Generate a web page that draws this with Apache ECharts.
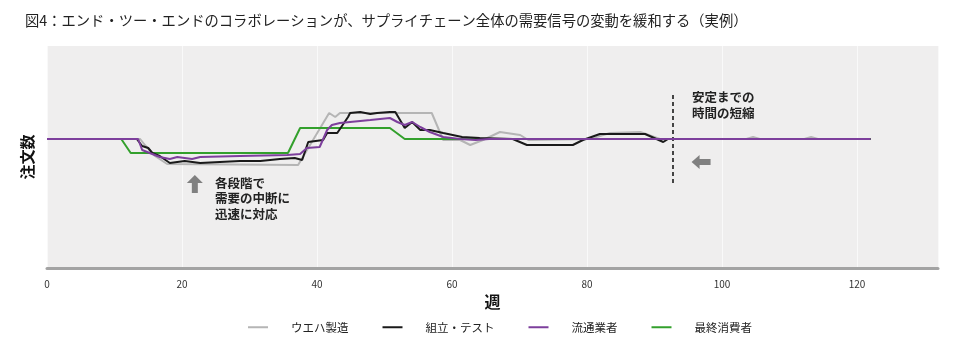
<!DOCTYPE html>
<html><head><meta charset="utf-8">
<script src="https://cdn.jsdelivr.net/npm/echarts@6/dist/echarts.min.js"></script>
<style>html,body{margin:0;padding:0;background:#fff}#c{width:961px;height:350px}</style>
</head><body><div id="c"></div>
<script>
const FONT = '"Noto Sans CJK JP", "Noto Sans", sans-serif';
const titleText = '図4：エンド・ツー・エンドのコラボレーションが、サプライチェーン全体の需要信号の変動を緩和する（実例）';
const seriesNames = ['ウエハ製造', '組立・テスト', '流通業者', '最終消費者'];
const xTicks = [0, 20, 40, 60, 80, 100, 120];

// Gray: wafer manufacturing
const grayWeeks = [0, 13.8, 14.5, 16, 17.8, 37.2, 41.8, 42.7, 43.4, 57, 58.7, 61.2, 62.7, 64.6, 67.1, 70.1, 71.3, 80.4, 83.4, 87.9, 90.8, 103.6, 104.6, 105.6, 112.2, 113.2, 114.2, 122];
const grayVals  = [129, 129, 123, 112, 104, 103, 155, 151, 155, 155, 128, 128, 123, 128, 136, 133, 128, 129, 135, 136, 129, 129, 131, 129, 129, 131, 129, 129];

// Black: assembly & test
const blackWeeks = [0, 13.3, 14.1, 15, 15.6, 16.7, 18.2, 20.4, 22.7, 25.6, 28.6, 31.6, 34.5, 36.7, 37.8, 38.7, 40.9, 41.5, 43, 44.6, 44.9, 46.4, 47.9, 48.9, 50.8, 51.6, 53, 54.1, 55.3, 56.7, 58.7, 60.1, 61.5, 64.1, 69, 71.1, 77.9, 79.4, 81.9, 88.6, 91.3, 92, 122];
const blackVals  = [129, 129, 122, 120, 115, 112, 105, 107, 105, 106, 107, 107, 109, 110, 108, 126, 128, 135, 135, 151, 155, 156, 154, 155, 156, 156, 140, 146, 138, 138, 135, 133, 131, 130, 129, 123, 123, 128, 134, 134, 126, 129, 129];

// Purple: distributors
const purpleWeeks = [0, 13.5, 14.1, 16.7, 18.2, 19.3, 21.5, 22.7, 28.6, 35.6, 37.5, 38.5, 40.4, 41.5, 42.2, 43.4, 44.9, 47.9, 50.8, 51.9, 53, 54.1, 55.3, 56.7, 58.7, 61.2, 63.5, 65.5, 122];
const purpleVals  = [129, 129, 118, 111, 109, 111, 109, 111, 112, 113, 114, 120, 121, 138, 143, 145, 146, 148, 150, 146, 143, 146, 141, 136, 131, 129, 128, 129, 129];

// Green: end consumers
const greenWeeks = [0, 11, 12.4, 35.7, 37.5, 50.8, 53, 122];
const greenVals  = [129, 129, 115, 115, 140, 140, 129, 129];

// Annotation anchors (data units)
const dashX = 92.7, dashY = [85, 176];
const upArrow = [21.9, 84];
const leftArrow = [96.9, 106];

function zip(xs, ys) { return xs.map((x, i) => [x, ys[i]]); }

const colors = ['#b5b5b5', '#1a1a1a', '#7d3f9c', '#33a02c'];

const chart = echarts.init(document.getElementById('c'), null, {renderer: 'canvas'});
const lineBase = (name, data, color, z) => ({
  name, type: 'line', data, showSymbol: false, symbol: 'none', z,
  lineStyle: {color, width: 2}, itemStyle: {color}, animation: false
});

const option = {
  animation: false,
  textStyle: {fontFamily: FONT},
  title: {
    text: titleText, left: 20, top: 8,
    textStyle: {fontSize: 14.3, fontWeight: 'normal', color: '#222', fontFamily: FONT}
  },
  grid: {left: 47, right: 23, top: 46, bottom: 82, show: true, backgroundColor: '#efeeee', borderWidth: 0},
  legend: {
    data: seriesNames, bottom: 12, left: 243, itemWidth: 20, itemHeight: 2, itemGap: 34,
    icon: 'rect',
    textStyle: {fontSize: 11.5, color: '#222', fontFamily: FONT, padding: [0, 0, 0, 18]}
  },
  xAxis: {
    type: 'value', min: 0, max: 132, interval: 20,
    name: '週', nameLocation: 'middle', nameGap: 26,
    nameTextStyle: {fontSize: 16, fontWeight: 'bold', color: '#111', fontFamily: FONT},
    axisLine: {show: true, lineStyle: {color: '#a3a3a3', width: 3}},
    axisTick: {show: false},
    axisLabel: {fontSize: 10, color: '#333', margin: 11, showMaxLabel: false},
    splitLine: {show: true, lineStyle: {color: '#f9f9f9', width: 1}}
  },
  yAxis: {
    type: 'value', min: 0, max: 222,
    name: '注文数', nameLocation: 'middle', nameGap: 12, nameRotate: 90,
    nameTextStyle: {fontSize: 15, fontWeight: 'bold', color: '#111', fontFamily: FONT},
    axisLine: {show: false}, axisTick: {show: false}, axisLabel: {show: false},
    splitLine: {show: false}
  },
  series: [
    lineBase(seriesNames[0], zip(grayWeeks, grayVals), colors[0], 2),
    lineBase(seriesNames[1], zip(blackWeeks, blackVals), colors[1], 4),
    Object.assign(lineBase(seriesNames[2], zip(purpleWeeks, purpleVals), colors[2], 5), {
      markLine: {
        silent: true, symbol: 'none', label: {show: false},
        lineStyle: {color: '#444', type: [4, 3], width: 2},
        data: [[{coord: [dashX, dashY[0]]}, {coord: [dashX, dashY[1]]}]]
      },
      markPoint: {
        silent: true, label: {show: false},
        data: [
          {coord: upArrow, symbol: 'path://M8,0 L16,8 L11,8 L11,18 L5,18 L5,8 L0,8 Z', symbolSize: [16, 18], itemStyle: {color: '#808080'}},
          {coord: leftArrow, symbol: 'path://M0,7 L8,0 L8,4 L19,4 L19,10 L8,10 L8,14 Z', symbolSize: [19, 14], itemStyle: {color: '#808080'}}
        ]
      }
    }),
    lineBase(seriesNames[3], zip(greenWeeks, greenVals), colors[3], 3)
  ],
  graphic: [
    {type: 'text', left: 215, top: 175, z: 100, style: {text: '各段階で\n需要の中断に\n迅速に対応', fontSize: 12.5, fontWeight: 'bold', lineHeight: 15.5, fill: '#222', fontFamily: FONT}},
    {type: 'text', left: 692, top: 89, z: 100, style: {text: '安定までの\n時間の短縮', fontSize: 12.5, fontWeight: 'bold', lineHeight: 16, fill: '#222', fontFamily: FONT}}
  ]
};
chart.setOption(option);
</script></body></html>
